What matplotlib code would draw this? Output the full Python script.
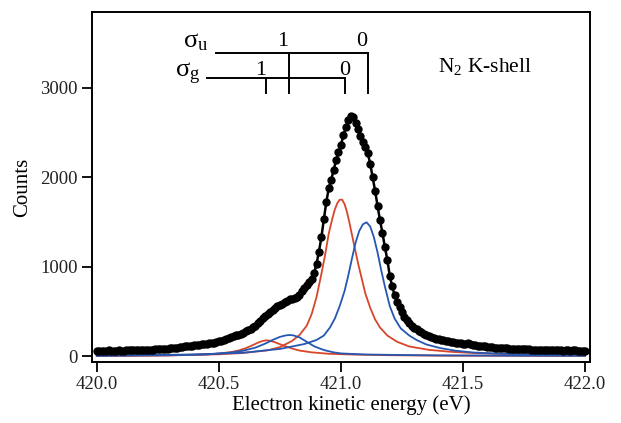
import numpy as np
import matplotlib.pyplot as plt

plt.rcParams['font.family'] = ['Liberation Serif', 'DejaVu Serif']
plt.rcParams['mathtext.fontset'] = 'custom'
plt.rcParams['mathtext.rm'] = 'Liberation Serif'
plt.rcParams['mathtext.it'] = 'Liberation Serif:italic'

# measured spectrum, 0.01 eV steps from 420.00 to 422.00 eV
energy = np.round(np.arange(420.0, 422.0001, 0.01), 2)
counts = [
    55, 58, 60, 57, 62, 64, 60, 58, 62, 66,
    62, 60, 63, 68, 70, 66, 63, 65, 68, 71,
    72, 69, 68, 72, 75, 78, 76, 74, 80, 83,
    86, 90, 94, 92, 100, 105, 108, 110, 114, 118,
    121, 123, 126, 130, 135, 138, 143, 148, 152, 158,
    165, 172, 180, 192, 203, 215, 228, 238, 236, 248,
    262, 278, 292, 308, 322, 342, 368, 395, 425, 448,
    468, 490, 518, 542, 558, 572, 588, 600, 618, 634,
    640, 652, 662, 688, 728, 758, 790, 828, 858, 925,
    1030, 1170, 1330, 1530, 1720, 1880, 1970, 2080, 2190, 2280,
    2360, 2470, 2560, 2640, 2685, 2670, 2610, 2545, 2465, 2400,
    2340, 2270, 2150, 2000, 1850, 1680, 1520, 1380, 1220, 1080,
    900, 780, 680, 610, 550, 490, 440, 400, 365, 335,
    312, 298, 282, 266, 250, 236, 222, 212, 205, 196,
    186, 180, 175, 170, 166, 160, 156, 152, 148, 145,
    140, 136, 142, 132, 126, 122, 118, 114, 112, 108,
    105, 102, 98, 96, 94, 92, 90, 88, 86, 85,
    84, 82, 80, 79, 78, 76, 75, 74, 72, 70,
    69, 68, 70, 66, 67, 65, 64, 68, 66, 63,
    64, 62, 65, 63, 60, 64, 66, 62, 58, 56,
    52,
]

# fitted components
g0_e = [420.0, 420.3, 420.5, 420.6, 420.7, 420.75, 420.8, 420.83, 420.86, 420.88,
        420.9, 420.92, 420.935, 420.95, 420.965, 420.975, 420.985, 420.995, 421.005,
        421.015, 421.025, 421.035, 421.045, 421.055, 421.07, 421.085, 421.1, 421.12,
        421.14, 421.16, 421.19, 421.23, 421.28, 421.36, 421.45, 421.55, 421.7,
        421.85, 422.0]
g0_c = [4, 10, 20, 35, 65, 100, 170, 235, 340, 470,
        660, 920, 1130, 1370, 1540, 1640, 1710, 1750, 1750,
        1700, 1610, 1490, 1360, 1230, 1040, 870, 700, 540,
        410, 320, 230, 160, 108, 70, 48, 34, 20,
        13, 9]

g1_e = [420.0, 420.3, 420.45, 420.5, 420.55, 420.58, 420.61, 420.635, 420.66,
        420.68, 420.695, 420.71, 420.73, 420.75, 420.77, 420.8, 420.83, 420.88,
        420.95, 421.05, 421.2, 421.4, 422.0]
g1_c = [2, 7, 18, 28, 45, 62, 88, 118, 150,
        170, 177, 172, 155, 133, 112, 85, 62, 42,
        26, 17, 10, 5, 2]

u0_e = [420.0, 420.4, 420.6, 420.75, 420.85, 420.9, 420.93, 420.955, 420.975,
        420.995, 421.015, 421.03, 421.045, 421.06, 421.075, 421.09, 421.105,
        421.12, 421.135, 421.15, 421.165, 421.18, 421.2, 421.22, 421.245, 421.28,
        421.31, 421.35, 421.406, 421.47, 421.542, 421.65, 421.8, 422.0]
u0_c = [6, 18, 38, 80, 135, 180, 230, 320, 420,
        560, 730, 900, 1090, 1270, 1400, 1475, 1497,
        1450, 1330, 1160, 960, 780, 560, 420, 310, 230,
        180, 130, 90, 60, 40, 28, 18, 12]

u1_e = [420.0, 420.3, 420.45, 420.55, 420.6, 420.65, 420.69, 420.72, 420.75,
        420.775, 420.79, 420.805, 420.83, 420.86, 420.89, 420.93, 420.97, 421.0,
        421.1, 421.25, 421.4, 421.7, 422.0]
u1_c = [3, 10, 19, 40, 60, 95, 140, 180, 215,
        232, 236, 232, 210, 160, 110, 68, 42, 30,
        18, 12, 8, 5, 3]

# vibrational ladder markers
u_levels = [421.111, 420.788]
g_levels = [421.016, 420.695]
ladder_labels = ['0', '1']

red = '#d8452b'
blue = '#2557b0'

fig = plt.figure(figsize=(6.21, 4.23), dpi=100)
ax = fig.add_axes([0.148, 0.144, 0.802, 0.828])

ax.plot(g0_e, g0_c, color=red, lw=1.3)
ax.plot(g1_e, g1_c, color=red, lw=1.3)
ax.plot(u0_e, u0_c, color=blue, lw=1.3)
ax.plot(u1_e, u1_c, color=blue, lw=1.3)
ax.plot(energy, counts, 'k-', lw=1.8, marker='o', ms=5, zorder=5)

# sigma_u ladder
ax.plot([420.49, u_levels[0]], [3396, 3396], 'k-', lw=1.4)
for e, lab in zip(u_levels, ladder_labels):
    ax.plot([e, e], [3396, 2942], 'k-', lw=1.4)
    ax.text(e - 0.005, 3465, lab, ha='right', va='baseline', fontsize=16)
ax.text(420.406, 3516, r'$\mathrm{\sigma_u}$', ha='center', va='center', fontsize=19)

# sigma_g ladder
ax.plot([420.45, g_levels[0]], [3116, 3116], 'k-', lw=1.4)
for e, lab in zip(g_levels, ladder_labels):
    ax.plot([e, e], [3116, 2942], 'k-', lw=1.4)
ax.text(g_levels[0], 3150, ladder_labels[0], ha='center', va='baseline', fontsize=16)
ax.text(g_levels[1], 3150, ladder_labels[1], ha='right', va='baseline', fontsize=16)
ax.text(420.373, 3158, r'$\mathrm{\sigma_g}$', ha='center', va='center', fontsize=19)

ax.text(421.398, 3184, r'N$_\mathrm{2}$ K-shell', ha='left', va='baseline', fontsize=15.5)

ax.set_xlim(419.98, 422.02)
ax.set_ylim(-67, 3852)
ax.set_xticks([420.0, 420.5, 421.0, 421.5, 422.0])
ax.set_xticklabels(['420.0', '420.5', '421.0', '421.5', '422.0'])
ax.set_yticks([0, 1000, 2000, 3000])

ax.tick_params(direction='out', length=7, width=1.3, labelsize=13.5, pad=3,
               labelcolor='#222222')
for s in ax.spines.values():
    s.set_linewidth(1.4)

ax.set_xlabel('Electron kinetic energy (eV)', fontsize=15, labelpad=2)
ax.xaxis.label.set_x(0.52)
ax.set_ylabel('Counts', fontsize=15, labelpad=6)

plt.savefig('out.png', dpi=100)
